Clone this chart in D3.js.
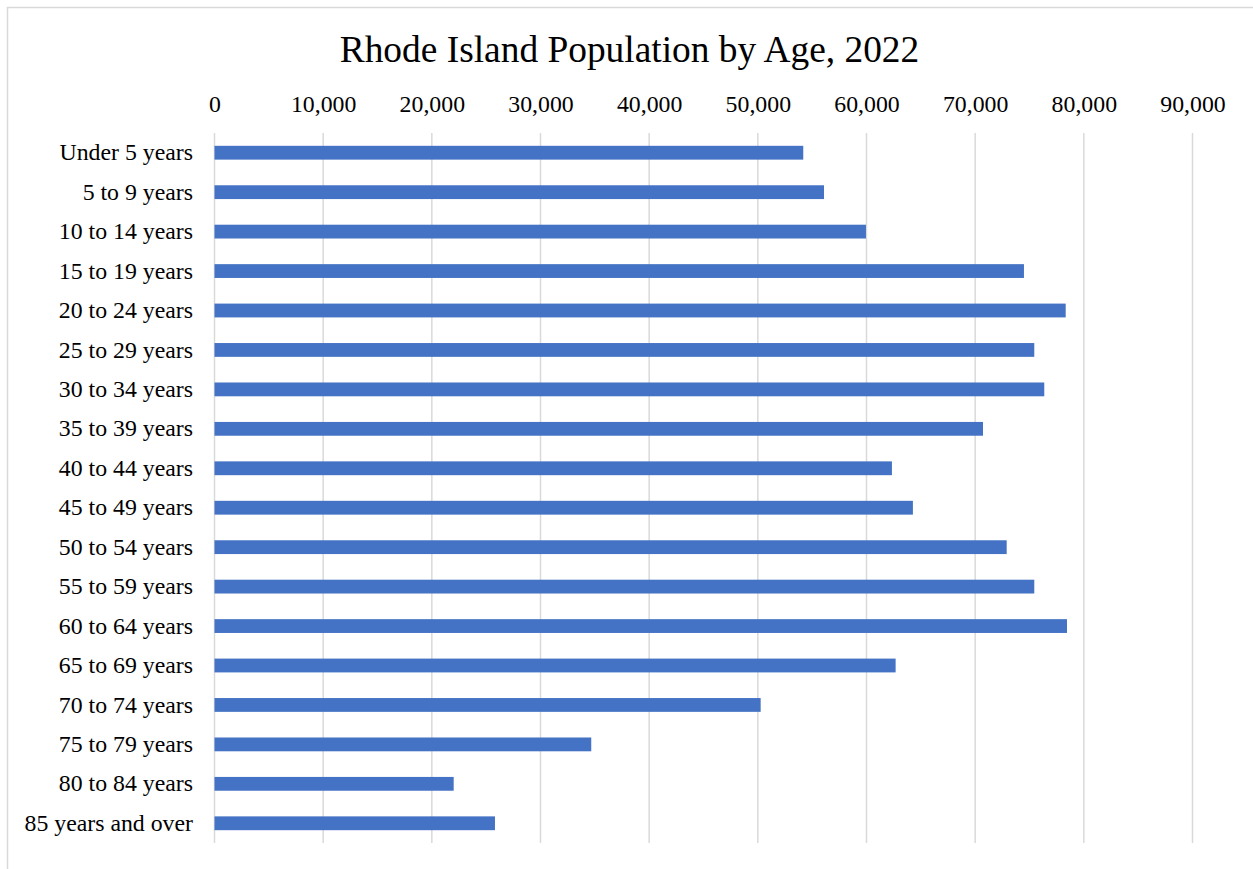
<!DOCTYPE html>
<html>
<head>
<meta charset="utf-8">
<script src="https://cdn.jsdelivr.net/npm/d3@7"></script>
<style>
  html, body { margin: 0; padding: 0; background: #fff; }
  svg { display: block; }
  text { font-family: "Liberation Serif", "Times New Roman", serif; fill: #000; }
</style>
</head>
<body>
<script>
const categories = ["Under 5 years","5 to 9 years","10 to 14 years","15 to 19 years","20 to 24 years","25 to 29 years","30 to 34 years","35 to 39 years","40 to 44 years","45 to 49 years","50 to 54 years","55 to 59 years","60 to 64 years","65 to 69 years","70 to 74 years","75 to 79 years","80 to 84 years","85 years and over"];
const population = [54180, 56090, 59950, 74490, 78330, 75440, 76360, 70720, 62340, 64270, 72900, 75440, 78450, 62680, 50260, 34670, 22010, 25810];
const tickValues = [0, 10000, 20000, 30000, 40000, 50000, 60000, 70000, 80000, 90000];
const title = "Rhode Island Population by Age, 2022";

const W = 1253, H = 869;
const svg = d3.select("body").append("svg").attr("width", W).attr("height", H);

// chart frame
svg.append("rect").attr("x", 7.5).attr("y", 7.5).attr("width", W).attr("height", H)
  .attr("fill", "#fff").attr("stroke", "#d9d9d9").attr("stroke-width", 1.5);

const plot = { left: 214.5, right: 1192.5, top: 133, bottom: 843 };

const x = d3.scaleLinear().domain([0, 90000]).range([plot.left, plot.right]);
const y = d3.scaleBand().domain(categories).range([plot.top, plot.bottom]).paddingInner(0.65).paddingOuter(0.325);

// gridlines
svg.append("g").selectAll("line").data(tickValues).join("line")
  .attr("x1", d => x(d)).attr("x2", d => x(d))
  .attr("y1", plot.top).attr("y2", plot.bottom)
  .attr("stroke", "#d9d9d9").attr("stroke-width", 1.5);

// top axis labels
const fmt = d3.format(",");
const xAxis = d3.axisTop(x).tickValues(tickValues).tickFormat(fmt).tickSize(0).tickPadding(0);
const gx = svg.append("g").attr("transform", `translate(0, 112)`).call(xAxis);
gx.select(".domain").remove();
gx.selectAll("text").attr("font-family", "Liberation Serif, Times New Roman, serif")
  .attr("font-size", 23.8).attr("fill", "#000").attr("dy", 0);

// bars
svg.append("g").selectAll("rect").data(population).join("rect")
  .attr("x", x(0))
  .attr("y", (d, i) => y(categories[i]))
  .attr("width", d => x(d) - x(0))
  .attr("height", y.bandwidth())
  .attr("fill", "#4472C4");

// category labels
const yAxis = d3.axisLeft(y).tickSize(0).tickPadding(0);
const gy = svg.append("g").attr("transform", `translate(193, 0)`).call(yAxis);
gy.select(".domain").remove();
gy.selectAll("text").attr("font-family", "Liberation Serif, Times New Roman, serif")
  .attr("font-size", 23.8).attr("fill", "#000");

// title
svg.append("text").attr("x", 629.5).attr("y", 62).attr("text-anchor", "middle")
  .attr("font-size", 37.4).text(title);
</script>
</body>
</html>
